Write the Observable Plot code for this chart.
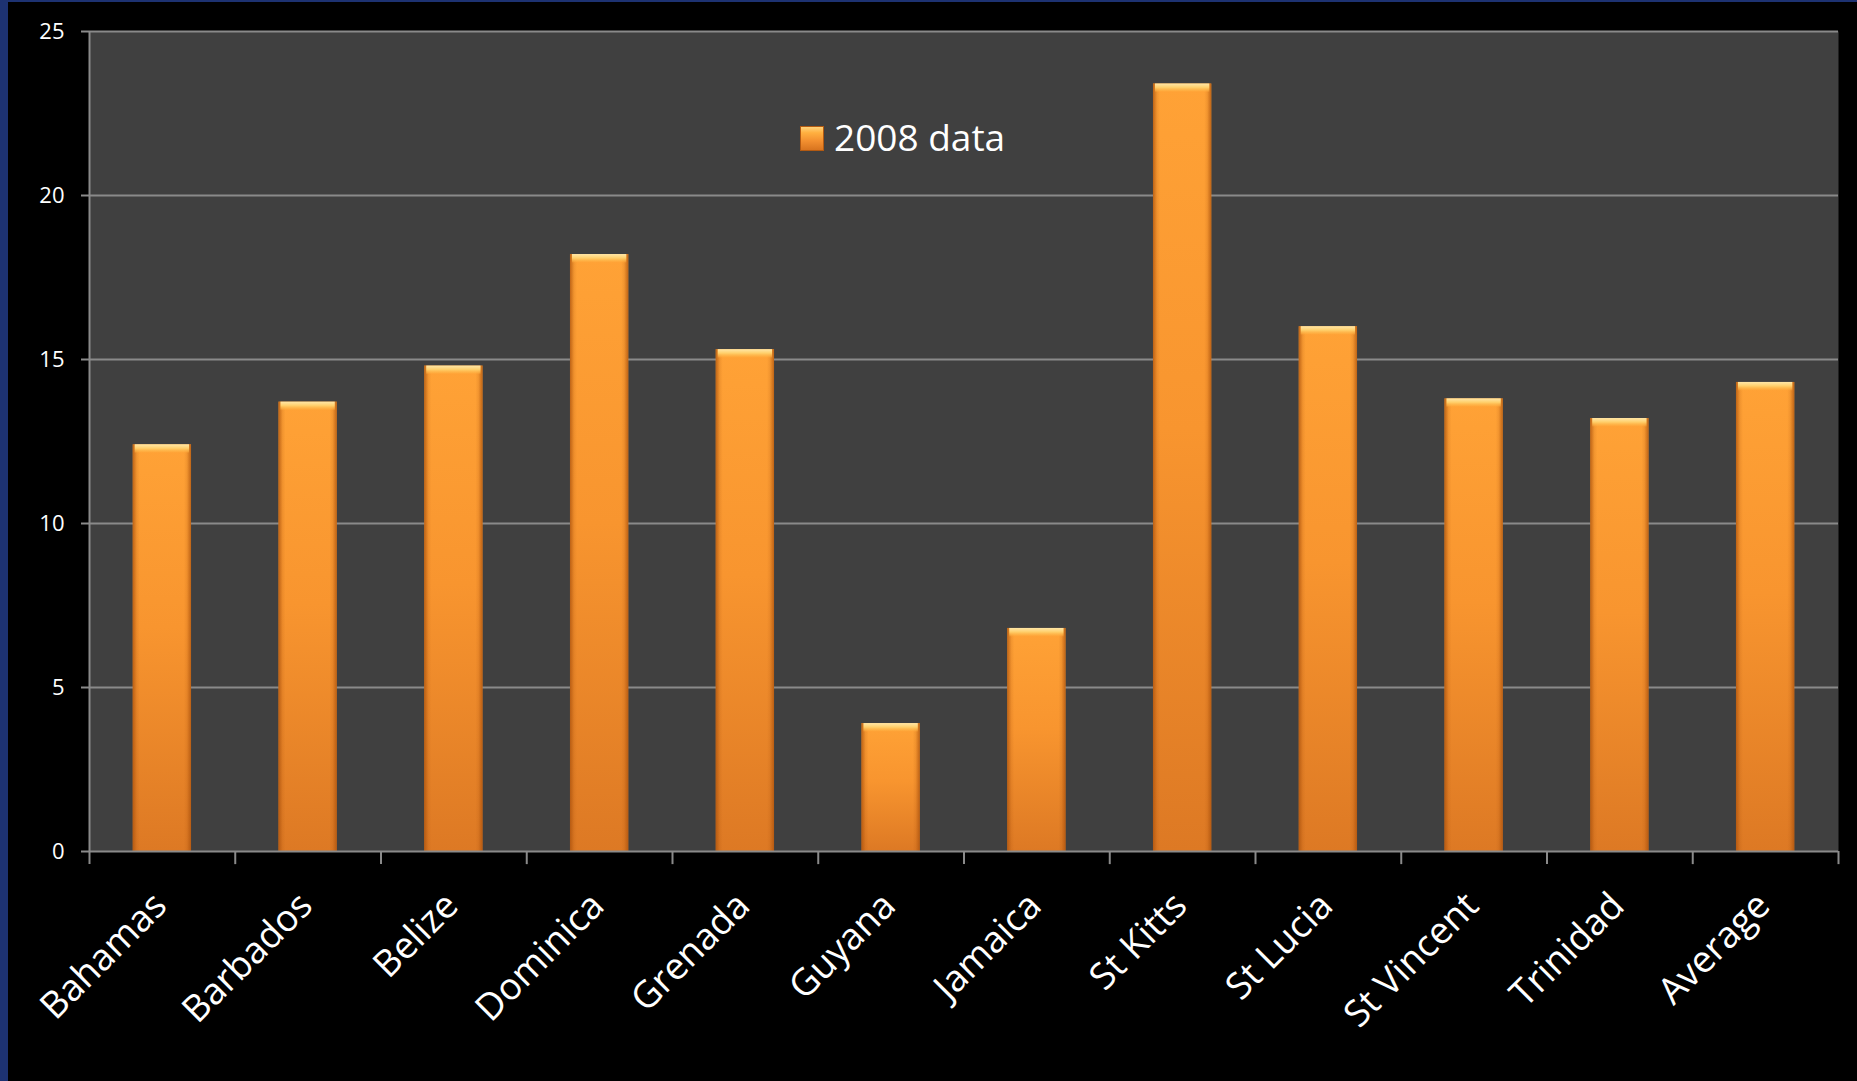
<!DOCTYPE html>
<html><head><meta charset="utf-8">
<script src="https://cdn.jsdelivr.net/npm/d3@7"></script>
<script src="https://cdn.jsdelivr.net/npm/@observablehq/plot@0.6"></script>
<style>
html,body{margin:0;padding:0;background:#000;}
body{width:1857px;height:1081px;position:relative;overflow:hidden;font-family:"Open Sans",sans-serif;}
#strip{position:absolute;left:0;top:0;width:8px;height:1081px;background:#1d3272;z-index:2;}
#topstrip{position:absolute;left:0;top:0;width:1857px;height:2px;background:#1d3272;z-index:2;}
#chart{position:absolute;left:0;top:0;}
#swatch{position:absolute;left:800px;top:126px;width:24px;height:25px;box-sizing:border-box;border:1px solid #b35a12;
  background:linear-gradient(to bottom,#ffd27a 0%,#ffb040 25%,#f39030 60%,#d8741f 100%);}
#legendText{position:absolute;left:834px;top:118px;color:#fff;font-size:37px;line-height:37px;white-space:nowrap;}
</style>
</head><body>
<div id="strip"></div><div id="topstrip"></div>
<div id="chart"></div>
<div id="swatch"></div><div id="legendText"></div>
<script>
const countries = ["Bahamas","Barbados","Belize","Dominica","Grenada","Guyana","Jamaica","St Kitts","St Lucia","St Vincent","Trinidad","Average"];
const values2008 = [12.4,13.7,14.8,18.2,15.3,3.9,6.8,23.4,16.0,13.8,13.2,14.3];
const yTicks = [0,5,10,15,20,25];
const seriesName = "2008 data";

const data = countries.map((c,i)=>({country:c, value:values2008[i]}));

const W=1857, H=1081, mL=89, mR=19, mT=31, mB=230;
const step = (W-mL-mR)/countries.length;
const gridColor = "#8a8a8a";

function defs(){
  const d = d3.create("svg:defs");
  const g = d.append("linearGradient").attr("id","barV").attr("x1",0).attr("y1",0).attr("x2",0).attr("y2",1);
  g.append("stop").attr("offset","0%").attr("stop-color","#ffa236");
  g.append("stop").attr("offset","45%").attr("stop-color","#f8952f");
  g.append("stop").attr("offset","100%").attr("stop-color","#dd7924");
  const h = d.append("linearGradient").attr("id","barH").attr("x1",0).attr("y1",0).attr("x2",1).attr("y2",0);
  [["0%",0.75],["7%",0.15],["12%",0],["88%",0],["93%",0.15],["100%",0.75]].forEach(([o,a])=>
    h.append("stop").attr("offset",o).attr("stop-color","#a9500c").attr("stop-opacity",a));
  const c = d.append("linearGradient").attr("id","cap").attr("x1",0).attr("y1",0).attr("x2",0).attr("y2",1);
  c.append("stop").attr("offset","0%").attr("stop-color","#ffe7a8");
  c.append("stop").attr("offset","45%").attr("stop-color","#ffcf6a");
  c.append("stop").attr("offset","80%").attr("stop-color","#ffb548").attr("stop-opacity",0.6);
  c.append("stop").attr("offset","100%").attr("stop-color","#ffa236").attr("stop-opacity",0);
  return d.node();
}

const chart = Plot.plot({
  width: W, height: H,
  marginLeft: mL, marginRight: mR, marginTop: mT, marginBottom: mB,
  style: {background:"transparent", color:"white", fontFamily:"'Open Sans', sans-serif"},
  x: {domain: countries, paddingInner: 0.6, paddingOuter: 0.3, round: false, label: null},
  y: {domain: [0,25], label: null},
  marks: [
    defs,
    Plot.frame({fill:"#404040", stroke:"none"}),
    Plot.gridY(yTicks.filter(t=>t>0), {stroke:gridColor, strokeOpacity:1, strokeWidth:2}),
    Plot.barY(data, {x:"country", y:"value", fill:"url(#barV)"}),
    Plot.barY(data, {x:"country", y:"value", fill:"url(#barH)"}),
    Plot.barY(data, {x:"country", y1:"value", y2:"value", insetBottom:-9, insetLeft:2, insetRight:2, fill:"url(#cap)"}),
    Plot.ruleY([0], {stroke:gridColor, strokeWidth:2}),
    Plot.ruleX([countries[0]], {x:d=>d, y1:-0.4, y2:25, dx:-step/2, stroke:gridColor, strokeWidth:2}),
    Plot.ruleX(countries.slice(1), {x:d=>d, y1:-0.4, y2:0, dx:-step/2, stroke:gridColor, strokeWidth:2}),
    Plot.ruleX([countries[countries.length-1]], {x:d=>d, y1:-0.4, y2:0, dx:step/2, stroke:gridColor, strokeWidth:2}),
    Plot.axisY(yTicks, {tickSize:8, tickPadding:17, fontSize:22, stroke:gridColor, strokeWidth:2, fill:"white", label:null}),
    Plot.axisX({tickSize:0, tickRotate:-45, tickPadding:48, dx:-2, fontSize:37, fill:"white", label:null})
  ]
});
document.getElementById("chart").appendChild(chart);
document.getElementById("legendText").textContent = seriesName;
</script>
</body></html>
